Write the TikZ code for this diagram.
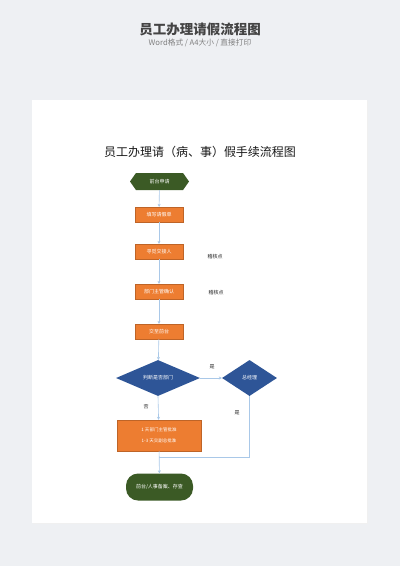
\documentclass[tikz,border=0pt]{standalone}
\usepackage{fontspec}
\setmainfont{Noto Sans CJK SC}
\usetikzlibrary{shapes.geometric,shapes.symbols,arrows.meta}
\definecolor{bg}{HTML}{EEF0F3}
\definecolor{dgreen}{HTML}{3B5A25}
\definecolor{orng}{HTML}{ED7D31}
\definecolor{dblue}{HTML}{2E5597}
\definecolor{lblue}{HTML}{A9C8E8}
\definecolor{ttl}{HTML}{444444}
\tikzset{
  box/.style={draw=orng!80!black,line width=0.3pt,fill=orng,text=white,minimum width=48pt,minimum height=15pt,inner sep=0pt,font=\fontsize{5}{6}\selectfont},
  dia/.style={diamond,fill=dblue,text=white,inner sep=0pt,font=\fontsize{5}{6}\selectfont},
  conn/.style={draw=lblue,line width=0.6pt,-{Stealth[length=3pt,width=3pt]}},
  plain/.style={draw=lblue,line width=0.6pt},
  lbl/.style={font=\fontsize{5}{6}\selectfont,text=black!85}
}
\begin{document}
\begin{tikzpicture}[x=1pt,y=-1pt]
\fill[bg] (0,0) rectangle (400,566);
\useasboundingbox (0,0) rectangle (400,566);
\fill[black!6] (33,101) rectangle (368,524);
\fill[white] (32,100) rectangle (367,523);
\node[font=\fontsize{13.5}{16}\selectfont\bfseries,text=ttl] (t1) at (200,29) {员工办理请假流程图};
\node[font=\fontsize{7.7}{9}\selectfont,text=black!50] (t2) at (200,43) {Word格式 / A4大小 / 直接打印};
\node[font=\fontsize{12}{14}\selectfont,text=black!90] (t3) at (200,152) {员工办理请（病、事）假手续流程图};
\node[fill=dgreen,text=white,font=\fontsize{5}{6}\selectfont,inner sep=0pt,minimum width=59pt,minimum height=17pt,
  signal,signal to=east and west,signal pointer angle=110] (n0) at (159.5,181.5) {前台申请};
\node[box] (n1) at (159,214.5) {填写请假单};
\node[box] (n2) at (159,251.5) {寻觅交接人};
\node[box] (n3) at (159,291.5) {部门主管确认};
\node[box] (n4) at (159,331.5) {交至前台};
\node[dia,minimum width=84pt,minimum height=36pt] (d1) at (158,378) {判断是否部门};
\node[dia,minimum width=55pt,minimum height=36pt] (d2) at (249.5,378) {总经理};
\node[box,minimum width=84pt,minimum height=31pt,align=center,font=\fontsize{4.5}{11}\selectfont] (n5) at (159,435.5) {1 天部门主管批准\\1-3 天交副总批准};
\node[fill=dgreen,text=white,rounded corners=12pt,minimum width=67pt,minimum height=27pt,inner sep=0pt,font=\fontsize{5}{6}\selectfont] (n6) at (159.5,487) {前台/人事备案、存查};
\node[lbl] (k1) at (215,257) {稽核点};
\node[lbl] (k2) at (216,293) {稽核点};
\node[lbl] (y1) at (212,367) {是};
\node[lbl] (f1) at (146,407) {否};
\node[lbl] (y2) at (237,413) {是};
\coordinate (c1) at (249.5,457);
\coordinate (c2) at (159,457);
\draw[conn] (n0) -- (n1);
\draw[conn] (n1) -- (n2);
\draw[conn] (n2) -- (n3);
\draw[conn] (n3) -- (n4);
\draw[conn] (n4) -- (d1);
\draw[conn] (d1) -- (d2);
\draw[conn] (d1.south) -- (n5);
\draw[plain] (d2.south) -- (c1) -- (c2);
\draw[conn] (n5) -- (n6);
\end{tikzpicture}
\end{document}
